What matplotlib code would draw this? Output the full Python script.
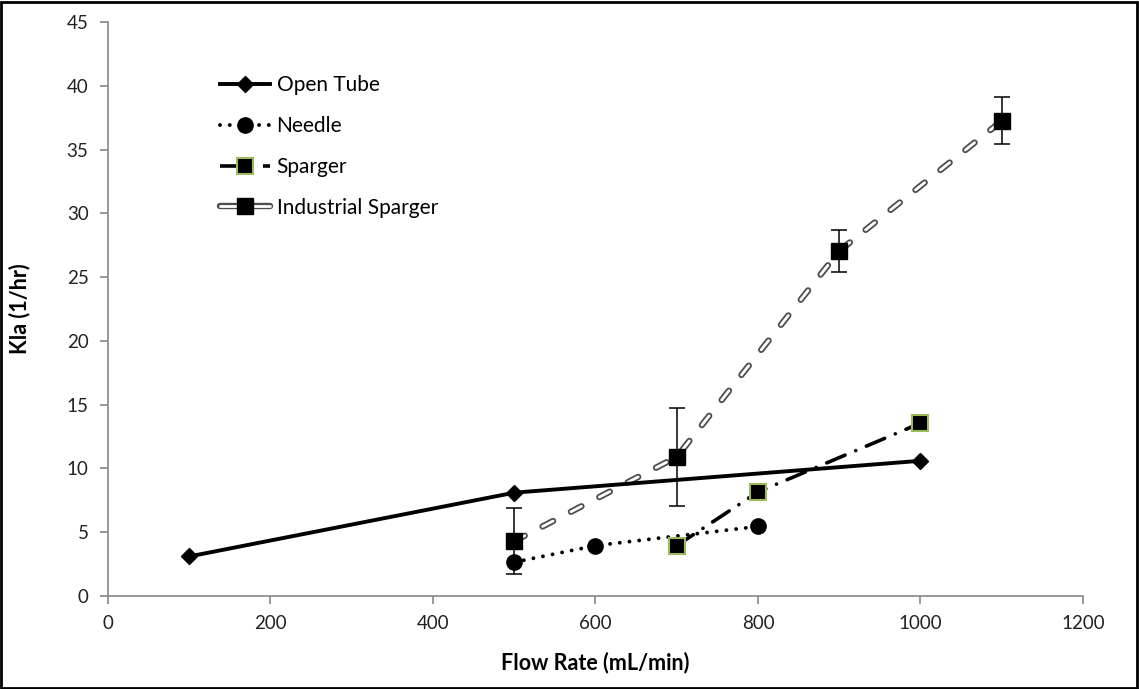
"""Oxygen transfer (Kla) vs. gas flow rate for four aerator types."""
import matplotlib

matplotlib.use("Agg")
import matplotlib.pyplot as plt  # noqa: E402
from matplotlib.lines import Line2D  # noqa: E402
from matplotlib.patches import Rectangle  # noqa: E402

plt.rcParams["font.family"] = ["Lato", "DejaVu Sans"]

open_x = [100, 500, 1000]
open_y = [3.1, 8.1, 10.6]

needle_x = [500, 600, 800]
needle_y = [2.65, 3.95, 5.45]

sparger_x = [700, 800, 1000]
sparger_y = [3.95, 8.15, 13.55]

ind_x = [500, 700, 900, 1100]
ind_y = [4.3, 10.9, 27.05, 37.25]
ind_err = [2.6, 3.85, 1.65, 1.85]

AXIS_GREY = "#868686"

# compound "double" dash: outer dark stroke and white core share one pattern (in points)
OUT_LW, IN_LW = 4.6, 2.0
DASH_ON, DASH_OFF = 8.5, 14.5
OUT_DASH = (0, (DASH_ON / OUT_LW, DASH_OFF / OUT_LW))
IN_DASH = (0, (DASH_ON / IN_LW, DASH_OFF / IN_LW))

DOTS = (0, (0.01, 2.5))
DASH_DOT = (0, (5.5, 3.2, 0.01, 3.2))

fig = plt.figure(figsize=(11.39, 6.89), dpi=100)
ax = fig.add_axes([0.0948, 0.135, 0.856, 0.833])

ax.errorbar(ind_x, ind_y, yerr=ind_err, fmt="none", ecolor="black",
            elinewidth=1.1, capsize=6, capthick=1.1, zorder=2)
ax.plot(ind_x, ind_y, color="#4d4d4d", lw=OUT_LW, ls=OUT_DASH,
        dash_capstyle="round", zorder=3)
ax.plot(ind_x, ind_y, color="white", lw=IN_LW, ls=IN_DASH,
        dash_capstyle="round", zorder=3)
ax.plot(ind_x, ind_y, ls="none", marker="s", ms=12, color="black", zorder=4)

ax.plot(open_x, open_y, color="black", lw=2.8, marker="D", ms=8.5, zorder=5)
ax.plot(needle_x, needle_y, color="black", lw=2.8, ls=DOTS,
        dash_capstyle="round", marker="o", ms=11, zorder=5)
ax.plot(sparger_x, sparger_y, color="black", lw=2.6, ls=DASH_DOT,
        dash_capstyle="round", zorder=5)
ax.plot(sparger_x, sparger_y, ls="none", marker="s", ms=11, color="black",
        markeredgecolor="#9bbb59", markeredgewidth=1.5, zorder=6)

ax.set_xlim(0, 1200)
ax.set_ylim(0, 45)
ax.set_xticks(range(0, 1201, 200))
ax.set_yticks(range(0, 46, 5))
for side in ("top", "right"):
    ax.spines[side].set_visible(False)
for side in ("left", "bottom"):
    ax.spines[side].set_color(AXIS_GREY)
    ax.spines[side].set_linewidth(1.2)
ax.tick_params(axis="both", direction="out", color=AXIS_GREY, length=6,
               width=1.2, labelsize=13.5, pad=8, labelcolor="#222222")
ax.set_xlabel("Flow Rate (mL/min)", fontsize=15.5, fontweight="bold", labelpad=14)
ax.set_ylabel("Kla (1/hr)", fontsize=15.5, fontweight="bold", labelpad=26)

h_open = Line2D([], [], color="black", lw=2.8, marker="D", ms=8.5)
h_needle = Line2D([], [], color="black", lw=2.8, ls=DOTS,
                  dash_capstyle="round", marker="o", ms=11)
h_sparger = Line2D([], [], color="black", lw=2.6, ls=DASH_DOT,
                   marker="s", ms=11, markeredgecolor="#9bbb59",
                   markeredgewidth=1.5)
h_ind = (Line2D([], [], color="#4d4d4d", lw=OUT_LW, solid_capstyle="round"),
         Line2D([], [], color="white", lw=IN_LW, solid_capstyle="round"),
         Line2D([], [], ls="none", marker="s", ms=12, color="black"))
ax.legend([h_open, h_needle, h_sparger, h_ind],
          ["Open Tube", "Needle", "Sparger", "Industrial Sparger"],
          loc="upper left", bbox_to_anchor=(0.096, 0.94), frameon=False,
          fontsize=15, handlelength=2.4, labelspacing=1.0,
          handletextpad=0.3, numpoints=1)

fig.patches.append(Rectangle((0.001, 0.0015), 0.997, 0.996,
                             transform=fig.transFigure, fill=False,
                             edgecolor="black", lw=2))

fig.savefig("out.png", dpi=100)
